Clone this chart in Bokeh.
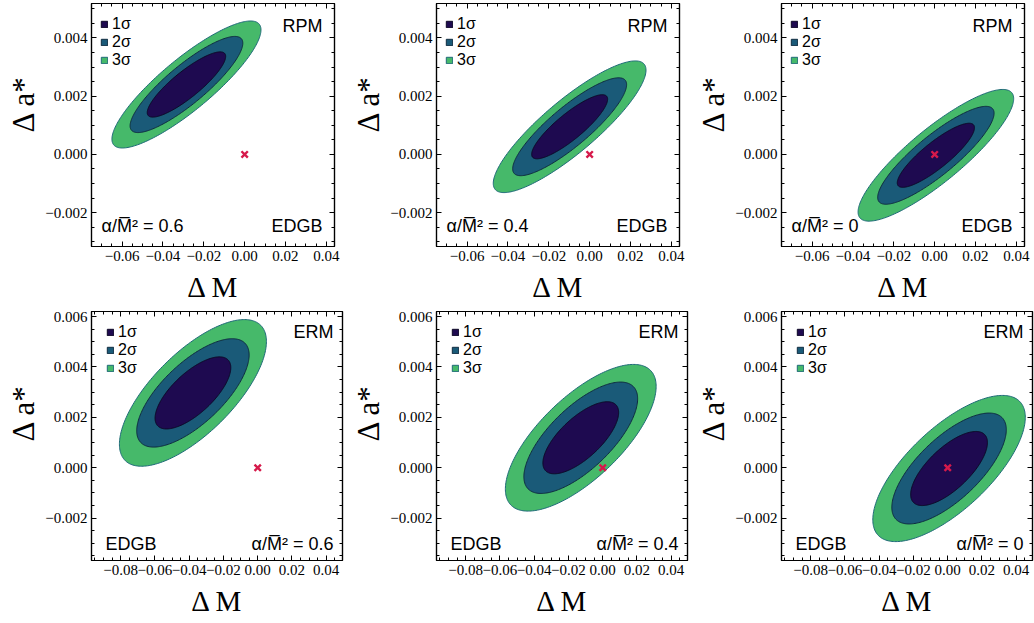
import numpy as np
from bokeh.plotting import figure
from bokeh.models import Label, Legend, LegendItem, LinearAxis, FixedTicker, Range1d, Title
from bokeh.layouts import column, row
from bokeh.embed import file_html
from bokeh.resources import INLINE

# ---------------- data ----------------
levels = ["1σ", "2σ", "3σ"]
level_colors = ["#1e0a50", "#1a5a78", "#46b96a"]
level_lines = ["#0d0826", "#0f2c40", "#1f6a78"]

# top row: RPM
rpm_alpha = ["0.6", "0.4", "0"]
rpm_center_M = [-0.0285, -0.0098, 0.0006]
rpm_center_a = [0.0024, 0.00095, -0.00003]
rpm_half_M = [[0.0192, 0.0276, 0.0365], [0.0186, 0.0279, 0.0374], [0.0189, 0.0285, 0.0381]]
rpm_half_a = [[0.00112, 0.00165, 0.00218], [0.0011, 0.00168, 0.00226], [0.0011, 0.00168, 0.00226]]
rpm_rho = [0.86, 0.86, 0.86]

# bottom row: ERM
erm_alpha = ["0.6", "0.4", "0"]
erm_center_M = [-0.0378, -0.0128, 0.0008]
erm_center_a = [0.00297, 0.00119, -0.00003]
erm_half_M = [[0.0221, 0.0328, 0.0429], [0.0221, 0.0332, 0.044], [0.0224, 0.0334, 0.0445]]
erm_half_a = [[0.00143, 0.00215, 0.00291], [0.00143, 0.00221, 0.00291], [0.00147, 0.0022, 0.0029]]
erm_rho = [0.7, 0.7, 0.7]

# fiducial point
true_M = [0.0]
true_a = [0.0]

# ticks
x_ticks_top = [-0.06, -0.04, -0.02, 0.0, 0.02, 0.04]
x_tick_labels_top = ["−0.06", "−0.04", "−0.02", "0.00", "0.02", "0.04"]
x_ticks_bot = [-0.08, -0.06, -0.04, -0.02, 0.0, 0.02, 0.04]
x_tick_labels_bot = ["−0.08", "−0.06", "−0.04", "−0.02", "0.00", "0.02", "0.04"]
y_ticks_top = [-0.002, 0.0, 0.002, 0.004]
y_tick_labels_top = ["−0.002", "0.000", "0.002", "0.004"]
y_ticks_bot = [-0.002, 0.0, 0.002, 0.004, 0.006]
y_tick_labels_bot = ["−0.002", "0.000", "0.002", "0.004", "0.006"]

x_range_top = (-0.075, 0.044)
y_range_top = (-0.00316, 0.00518)
x_range_bot = (-0.097, 0.0495)
y_range_bot = (-0.00368, 0.0062)

SANS = "Liberation Sans"
SERIF = "Liberation Serif"


def ellipse(cx, cy, hx, hy, rho, n=240):
    t = np.linspace(0, 2 * np.pi, n)
    xs = cx + hx * np.cos(t)
    ys = cy + hy * (rho * np.cos(t) + np.sqrt(1 - rho ** 2) * np.sin(t))
    return xs, ys


def style_axis(ax, ticks, labels, minor, show):
    ax.ticker = FixedTicker(ticks=ticks, minor_ticks=minor)
    ax.major_tick_in = 5
    ax.major_tick_out = 0
    ax.minor_tick_in = 3
    ax.minor_tick_out = 0
    ax.axis_line_color = "black"
    ax.axis_line_width = 1.2
    ax.major_tick_line_color = "black"
    ax.minor_tick_line_color = "black"
    if show:
        ax.major_label_overrides = {t: l for t, l in zip(ticks, labels)}
        ax.major_label_text_font = SERIF
        ax.major_label_text_font_size = "15px"
        ax.major_label_text_color = "black"
        ax.major_label_standoff = 4
    else:
        ax.major_label_text_font_size = "1px"
        ax.major_label_text_color = None
        ax.major_label_standoff = 0


def panel(top, idx, right_border):
    if top:
        cM, ca, hM, ha, rho = rpm_center_M, rpm_center_a, rpm_half_M, rpm_half_a, rpm_rho
        xr, yr = x_range_top, y_range_top
        xt, xl, yt, yl = x_ticks_top, x_tick_labels_top, y_ticks_top, y_tick_labels_top
        fw, fh, bt, bb = 243, 243, 3, 64
        alpha_txt = rpm_alpha[idx]
        leg_x = 9
        ylab_off = 114
    else:
        cM, ca, hM, ha, rho = erm_center_M, erm_center_a, erm_half_M, erm_half_a, erm_rho
        xr, yr = x_range_bot, y_range_bot
        xt, xl, yt, yl = x_ticks_bot, x_tick_labels_bot, y_ticks_bot, y_tick_labels_bot
        fw, fh, bt, bb = 251, 249, 1, 63
        alpha_txt = erm_alpha[idx]
        leg_x = 15
        ylab_off = 119

    p = figure(frame_width=fw, frame_height=fh,
               x_range=Range1d(*xr), y_range=Range1d(*yr),
               x_axis_type=None, y_axis_type=None,
               output_backend="svg", toolbar_location=None,
               min_border_left=91, min_border_right=right_border,
               min_border_top=bt, min_border_bottom=bb,
               background_fill_color="white", border_fill_color="white")
    p.outline_line_color = "black"
    p.outline_line_width = 1.2

    xminor = list(np.round(np.arange(-0.1, 0.06, 0.005), 4))
    yminor = list(np.round(np.arange(-0.004, 0.0065, 0.0005), 5))

    xb = LinearAxis(axis_label="Δ M")
    style_axis(xb, xt, xl, xminor, True)
    xb.axis_label_text_font = SERIF
    xb.axis_label_text_font_style = "normal"
    xb.axis_label_text_font_size = "29px"
    xb.axis_label_standoff = 7
    xb.axis_label_text_color = "black"
    p.add_layout(xb, "below")

    yl_ax = LinearAxis()
    style_axis(yl_ax, yt, yl, yminor, True)
    p.add_layout(yl_ax, "left")

    ytitle = Title(text="Δ a*", align="left", offset=ylab_off, standoff=3,
                   vertical_align="bottom",
                   text_font=SERIF, text_font_size="31px", text_font_style="normal",
                   text_color="black")
    p.add_layout(ytitle, "left")

    xa = LinearAxis()
    style_axis(xa, xt, xl, xminor, False)
    p.add_layout(xa, "above")
    yr_ax = LinearAxis()
    style_axis(yr_ax, yt, yl, yminor, False)
    p.add_layout(yr_ax, "right")

    rends = []
    for k in (2, 1, 0):
        xs, ys = ellipse(cM[idx], ca[idx], hM[idx][k], ha[idx][k], rho[idx])
        r = p.patch(xs, ys, fill_color=level_colors[k], line_color=level_lines[k], line_width=1)
        rends.append((k, r))
    rends.sort()

    p.scatter(true_M, true_a, marker="x", size=9, line_width=2.4, line_color="#d61a4b")

    items = [LegendItem(label=levels[k], renderers=[r]) for k, r in rends]
    leg = Legend(items=items, location=(leg_x, fh - 66),
                 glyph_width=8, glyph_height=8, label_height=12,
                 label_text_font=SANS, label_text_font_size="16px",
                 label_text_color="black",
                 label_standoff=4, spacing=-4, padding=0, margin=0,
                 background_fill_alpha=0, border_line_alpha=0)
    p.add_layout(leg)

    model = "RPM" if top else "ERM"
    atext = "α/M\u0305² = " + alpha_txt
    fs = "18px"
    if top:
        p.add_layout(Label(x=fw - 12, y=fh - 32, x_units="screen", y_units="screen", text=model,
                           text_font=SANS, text_font_size=fs, text_color="black", text_align="right"))
        p.add_layout(Label(x=fw - 12, y=11, x_units="screen", y_units="screen", text="EDGB",
                           text_font=SANS, text_font_size=fs, text_color="black", text_align="right"))
        p.add_layout(Label(x=10, y=11, x_units="screen", y_units="screen", text=atext,
                           text_font=SANS, text_font_size=fs, text_color="black", text_align="left"))
    else:
        p.add_layout(Label(x=fw - 9, y=fh - 30, x_units="screen", y_units="screen", text=model,
                           text_font=SANS, text_font_size=fs, text_color="black", text_align="right"))
        p.add_layout(Label(x=14, y=7, x_units="screen", y_units="screen", text="EDGB",
                           text_font=SANS, text_font_size=fs, text_color="black", text_align="left"))
        p.add_layout(Label(x=fw - 9, y=7, x_units="screen", y_units="screen", text=atext,
                           text_font=SANS, text_font_size=fs, text_color="black", text_align="right"))
    return p


top_row = row(panel(True, 0, 11), panel(True, 1, 11), panel(True, 2, 10))
bot_row = row(panel(False, 0, 3), panel(False, 1, 3), panel(False, 2, 2))
layout = column(top_row, bot_row)

open("out.html", "w").write(file_html(layout, INLINE))
